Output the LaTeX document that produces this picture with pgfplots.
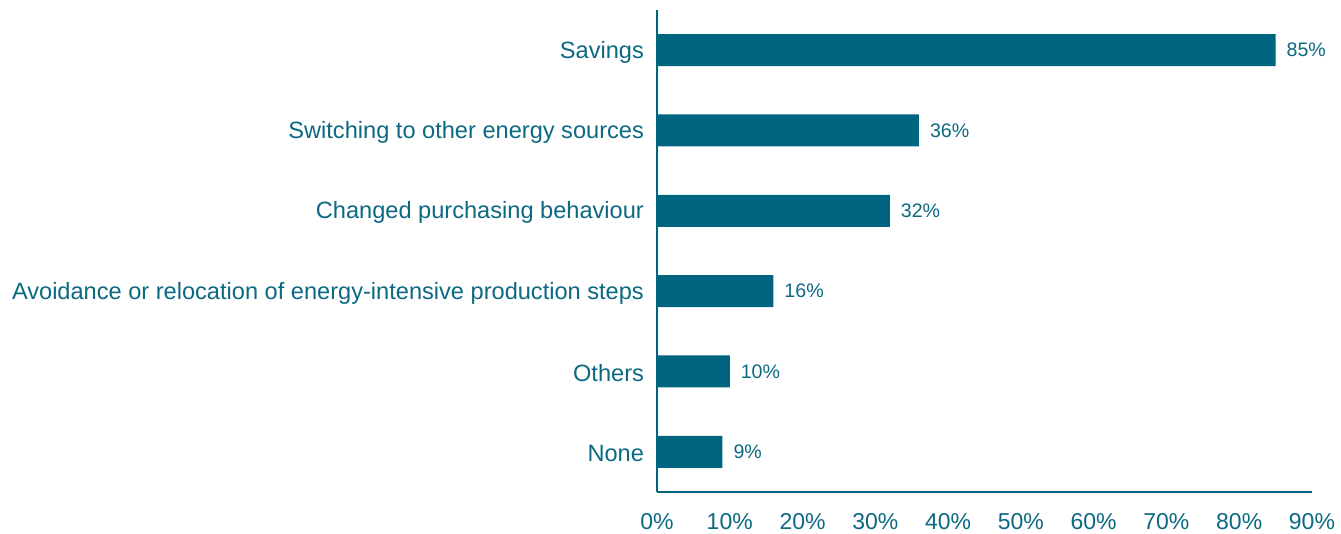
\documentclass[border=0pt]{standalone}
\usepackage{fontspec}
\setmainfont{Liberation Sans}
\usepackage{pgfplots}
\pgfplotsset{compat=1.18}
\definecolor{barTeal}{HTML}{00667F}
\definecolor{txtTeal}{HTML}{0B6982}
\begin{document}
\begin{tikzpicture}
\useasboundingbox (-328.5pt,-21pt) rectangle (342pt,246pt);
\begin{axis}[
  at={(0,0)}, anchor=south west,
  scale only axis, width=327.5pt, height=241pt,
  xbar, bar width=16pt,
  xmin=0, xmax=90, ymin=0.5, ymax=6.5,
  axis x line*=bottom, axis y line*=left,
  axis line style={barTeal, line width=0.75pt},
  major tick length=0pt,
  xtick={0,10,...,90},
  xticklabel={\pgfmathprintnumber{\tick}\%},
  /pgf/number format/assume math mode=true,
  x tick label style={font=\fontsize{11.5}{13}\selectfont, text=txtTeal, yshift=-7pt},
  ytick={1,2,3,4,5,6},
  yticklabels={None,Others,Avoidance or relocation of energy-intensive production steps,Changed purchasing behaviour,Switching to other energy sources,Savings},
  y tick label style={font=\fontsize{11.8}{14}\selectfont, text=txtTeal, xshift=-3pt, yshift=-1pt},
  nodes near coords={\pgfmathprintnumber{\pgfplotspointmeta}\%},
  nodes near coords style={font=\fontsize{9.8}{12}\selectfont, text=txtTeal, anchor=west, xshift=2pt},
]
\addplot[fill=barTeal, draw=none] coordinates {(85,6) (36,5) (32,4) (16,3) (10,2) (9,1)};
\end{axis}
\end{tikzpicture}
\end{document}
